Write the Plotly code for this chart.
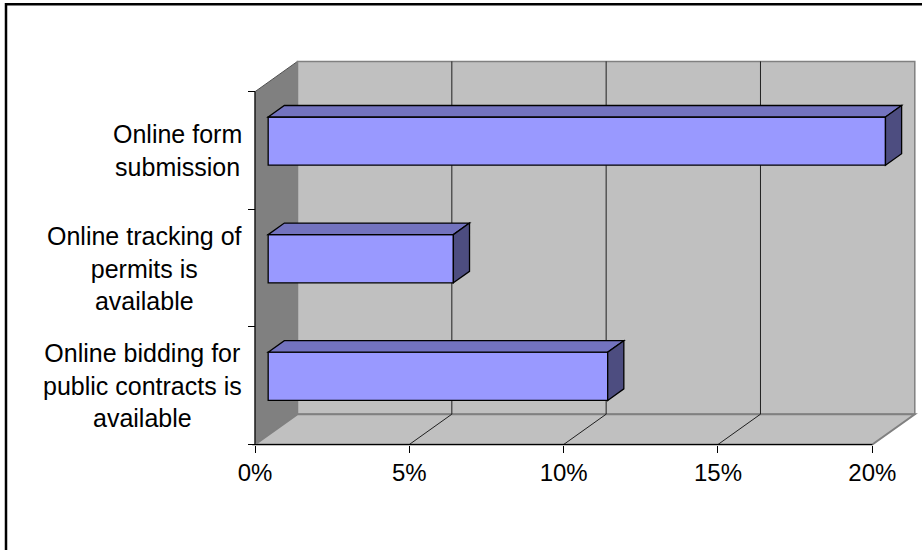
import plotly.graph_objects as go

# ---- data ----
categories = [
    "Online bidding for<br>public contracts is<br>available",
    "Online tracking of<br>permits is<br>available",
    "Online form<br>submission",
]
values = [11, 6, 20]  # percent
x_ticks = [0, 5, 10, 15, 20]
x_tick_labels = ["0%", "5%", "10%", "15%", "20%"]

# ---- layout calibration (pixels) ----
W, H = 922, 550
X0_PX, PX_PER_PCT = 255.0, 30.865
Y0_PX, PX_PER_CAT = 444.5, 117.6
DEPTH_X_PX, DEPTH_Y_PX = 42.5, 30.3

XMAX = x_ticks[-1]
NCAT = len(categories)

x_range = [-X0_PX / PX_PER_PCT, (W - X0_PX) / PX_PER_PCT]
y_range = [(Y0_PX - H) / PX_PER_CAT, Y0_PX / PX_PER_CAT]
dx = DEPTH_X_PX / PX_PER_PCT
dy = DEPTH_Y_PX / PX_PER_CAT

# bar geometry (fractions)
HALF_H = 0.205
D0, D1 = 0.31, 0.69

FRONT = "#9999FF"
TOP = "#7373BF"
SIDE = "#4D4D80"
WALL_DARK = "#808080"
WALL_LIGHT = "#C0C0C0"
FONT = "Arial, Liberation Sans, sans-serif"

shapes = []

def path(pts):
    return "M " + " L ".join(f"{x},{y}" for x, y in pts) + " Z"

# left side wall
shapes.append(dict(type="path", xref="x", yref="y", layer="below",
                   path=path([(0, 0), (0, NCAT), (dx, NCAT + dy), (dx, dy)]),
                   fillcolor=WALL_DARK, line=dict(color="#505050", width=1)))
# back wall
shapes.append(dict(type="rect", xref="x", yref="y", layer="below",
                   x0=dx, x1=XMAX + dx, y0=dy, y1=NCAT + dy,
                   fillcolor=WALL_LIGHT, line=dict(color=WALL_DARK, width=1.5)))
# floor
shapes.append(dict(type="path", xref="x", yref="y", layer="below",
                   path=path([(0, 0), (dx, dy), (XMAX + dx, dy), (XMAX, 0)]),
                   fillcolor=WALL_LIGHT, line=dict(color=WALL_DARK, width=2)))
# gridlines
for t in x_ticks[1:-1]:
    shapes.append(dict(type="line", xref="x", yref="y", layer="below",
                       x0=t + dx, x1=t + dx, y0=dy, y1=NCAT + dy,
                       line=dict(color="#202020", width=1)))
    shapes.append(dict(type="line", xref="x", yref="y", layer="below",
                       x0=t, x1=t + dx, y0=0, y1=dy,
                       line=dict(color="#202020", width=1)))
# axis lines
shapes.append(dict(type="line", xref="x", yref="y", layer="below",
                   x0=0, x1=XMAX, y0=0, y1=0, line=dict(color="black", width=1)))
shapes.append(dict(type="line", xref="x", yref="y", layer="below",
                   x0=0, x1=0, y0=0, y1=NCAT, line=dict(color="black", width=1)))

# bar top and side faces
ddx = (D1 - D0) * dx
ddy = (D1 - D0) * dy
bar_y = []
for i, v in enumerate(values):
    c = i + 0.5 + D0 * dy
    yb, yt = c - HALF_H, c + HALF_H
    xl = D0 * dx
    xr = v + D0 * dx
    bar_y.append(c)
    shapes.append(dict(type="path", xref="x", yref="y", layer="above",
                       path=path([(xl, yt), (xl + ddx, yt + ddy), (xr + ddx, yt + ddy), (xr, yt)]),
                       fillcolor=TOP, line=dict(color="black", width=1.3)))
    shapes.append(dict(type="path", xref="x", yref="y", layer="above",
                       path=path([(xr, yb), (xr + ddx, yb + ddy), (xr + ddx, yt + ddy), (xr, yt)]),
                       fillcolor=SIDE, line=dict(color="black", width=1.3)))

# chart border (top & left visible)
shapes.append(dict(type="rect", xref="paper", yref="paper", layer="above",
                   x0=6 / W, x1=1.02, y0=-0.02, y1=1 - 4.3 / H,
                   fillcolor="rgba(0,0,0,0)", line=dict(color="black", width=2.5)))

fig = go.Figure()
fig.add_trace(go.Bar(
    orientation="h",
    y=bar_y,
    x=values,
    base=[D0 * dx] * len(values),
    width=2 * HALF_H,
    marker=dict(color=FRONT, line=dict(color="black", width=1.3)),
    hoverinfo="skip",
    showlegend=False,
))

annotations = []
for i, cat in enumerate(categories):
    annotations.append(dict(x=0, y=i + 0.5, xref="x", yref="y", text=cat,
                            showarrow=False, xanchor="right", yanchor="middle",
                            align="center", xshift=-11,
                            font=dict(family=FONT, size=25, color="black")))

fig.update_layout(
    width=W, height=H,
    margin=dict(l=0, r=0, t=0, b=0),
    paper_bgcolor="white", plot_bgcolor="white",
    shapes=shapes,
    annotations=annotations,
    showlegend=False,
    xaxis=dict(range=x_range, domain=[0, 1], anchor="free",
               position=(H - Y0_PX) / H,
               tickvals=x_ticks, ticktext=x_tick_labels,
               ticks="outside", ticklen=7, tickcolor="black", tickwidth=1,
               showline=False, showgrid=False, zeroline=False,
               tickfont=dict(family=FONT, size=24, color="black"),
               fixedrange=True),
    yaxis=dict(range=y_range, domain=[0, 1], anchor="free",
               position=X0_PX / W,
               tickvals=list(range(NCAT + 1)),
               ticks="outside", ticklen=7, tickcolor="black", tickwidth=1,
               showticklabels=False,
               showline=False, showgrid=False, zeroline=False,
               fixedrange=True),
)

fig.write_html("out.html")
